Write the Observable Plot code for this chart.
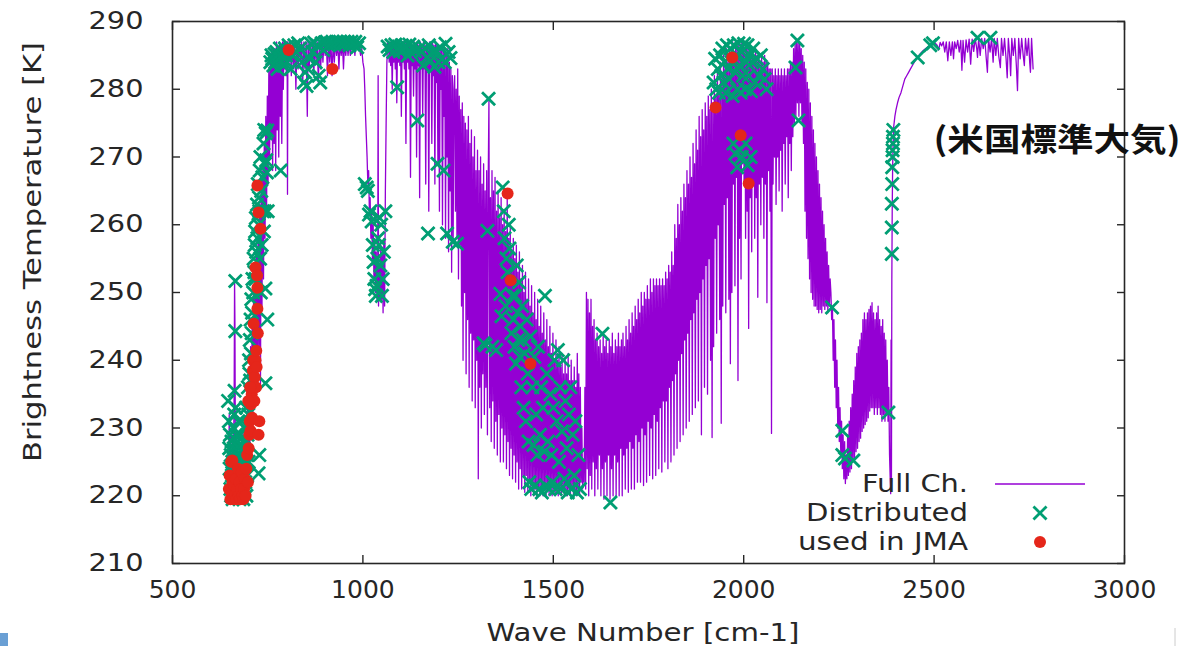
<!DOCTYPE html>
<html><head><meta charset="utf-8">
<script src="https://cdn.jsdelivr.net/npm/d3@7"></script>
<script src="https://cdn.jsdelivr.net/npm/@observablehq/plot@0.6"></script>
<style>
html,body{margin:0;padding:0;background:#fff;}
#chart{position:relative;width:1182px;height:646px;overflow:hidden;}
</style></head><body><div id="chart"></div>
<script>
const xTicks = [500, 1000, 1500, 2000, 2500, 3000];
const yTicks = [210, 220, 230, 240, 250, 260, 270, 280, 290];
const xLabel = "Wave Number [cm-1]";
const yLabel = "Brightness Temperature [K]";
const seriesNames = ["Full Ch.", "Distributed", "used in JMA"];
const note = "(米国標準大気)";

// Full Ch. spectrum [wave number, Tb]
const fullCO2 = [[645,226],[647,220],[649,232],[651,222],[653,229],[655,220],[657,226],[659,221],[661,230],[662,236],[663,252],[664,245],[665,228],[667,222],[669,229],[671,220],[673,226],[675,219.5],[677,224],[679,220],[681,228],[683,222],[685,230],[687,221],[689,226],[691,220],[693,229],[695,222],[697,233],[699,224]];
const fullRise = [[701,238],[703,226],[705,242],[707,229],[709,245],[711,231],[713,250],[715,233],[717,253],[719,236],[721,256],[723,238],[725,260],[727,242],[729,263],[731,236],[733,266],[735,248],[737,268],[739,252],[741,272],[743,258],[745,276],[747,262],[749,279],[751,266],[753,283],[755,270],[757,285],[759,273],[761,286],[763,268],[765,286],[767,272],[769,286],[771,268],[773,287],[775,274],[777,286],[779,270],[781,287],[783,276],[785,286],[787,272],[789,287],[791,280]];
const fullWin1 = [[793,287],[795,283],[797,287],[799,282],[801,287],[802,264.5],[803,287],[806,284],[809,287],[812,282],[815,287],[818,283],[821,287],[824,280],[827,287],[830,283],[833,287],[836,284],[839,287],[842,281],[845,287],[848,283],[851,287],[854,276],[856,287],[859,283],[862,287],[865,284],[868,287],[871,282],[874,287],[877,284],[880,287],[883,281],[886,287],[889,283],[892,287],[895,284],[898,287],[901,285],[904,287],[907,282],[910,287],[913,284],[916,287],[919,282],[922,287],[925,284],[928,287],[931,285],[934,287],[937,283],[940,287],[943,285],[946,287],[949,283],[952,287],[955,285],[958,287],[961,285],[964,287],[967,285],[970,287],[973,286],[976,287],[979,285],[982,287],[985,286],[988,287]];
const fullO3 = [[991,286],[994,285],[997,286],[1000,284],[1003,283],[1005,280],[1007,276],[1009,273],[1011,270],[1013,266],[1015,268],[1017,262],[1019,264],[1021,258],[1023,262],[1025,255],[1027,260],[1029,252],[1031,258],[1033,250],[1035,256],[1037,249],[1039,255],[1040,282],[1041,248],[1043,254],[1045,249],[1047,257],[1049,249],[1051,256],[1053,247],[1055,258],[1057,248],[1059,265],[1061,275],[1063,284],[1065,287]];
const fullWin2 = [[1067,287],[1069,284],[1071,287],[1073,283.5],[1075,287],[1077,280],[1079,287],[1081,284],[1083,287],[1085,283],[1087,287],[1089,278],[1091,287],[1093,284],[1095,287],[1097,283.5],[1099,286.5],[1101,276],[1103,287],[1105,284],[1107,287],[1109,283],[1111,287],[1113,272],[1115,287],[1117,284],[1119,286.5],[1121,283],[1123,287],[1125,267],[1127,287],[1129,283.5],[1131,286.5],[1133,279],[1135,287],[1137,283],[1139,286.5],[1141,270],[1143,287],[1145,283.5],[1147,286.5],[1149,264],[1151,287],[1153,283],[1155,286.5],[1157,276],[1159,287],[1161,283],[1163,286.5],[1165,266],[1167,287],[1169,283],[1171,286.5],[1173,262],[1175,287],[1177,283],[1179,286.5],[1181,272],[1183,287],[1185,282],[1187,286.5],[1189,266],[1191,287],[1193,281],[1195,286.5],[1197,269],[1199,286],[1201,262],[1203,286],[1205,280],[1207,286],[1209,260],[1211,286],[1213,276],[1215,286],[1217,258],[1219,285],[1221,270],[1223,286],[1225,256],[1227,284],[1229,265],[1231,283],[1233,253],[1235,282],[1237,258],[1239,280]];
const fullH2O = [[1241,282],[1243,262],[1245,280],[1247,258],[1249,283],[1251,252],[1253,279],[1255,257],[1257,277],[1259,248],[1261,278],[1263,240],[1265,276],[1267,250],[1269,275],[1271,238],[1273,274],[1275,246],[1277,276],[1279,236],[1281,272],[1283,244],[1285,274],[1287,234],[1289,270],[1291,243],[1293,273],[1295,233],[1297,268],[1299,240],[1301,271],[1303,222.5],[1305,268],[1307,236],[1309,270],[1311,230],[1313,266],[1315,238],[1317,269],[1319,232],[1321,265],[1323,236],[1325,268],[1327,229],[1329,266],[1331,278.6],[1333,233],[1335,264],[1337,228],[1339,268],[1341,234],[1343,265],[1345,227],[1347,267],[1349,231],[1351,262],[1353,226],[1355,265],[1357,232],[1359,261],[1361,225],[1363,264],[1365,230],[1367,260],[1369,225],[1371,262],[1373,229],[1375,259],[1377,224],[1379,264.6],[1381,228],[1383,258],[1385,223],[1387,260],[1389,227],[1391,256],[1393,222.5],[1395,258],[1397,226],[1399,255],[1401,222],[1403,257],[1405,225],[1407,253],[1409,221],[1411,256],[1413,224],[1415,252],[1417,221],[1419,254],[1421,223],[1423,250],[1425,220.5],[1427,253],[1429,223],[1431,249],[1433,220.5],[1435,252],[1437,222],[1439,248],[1441,220],[1443,251],[1445,222],[1447,247],[1449,220],[1451,250],[1453,221],[1455,246],[1457,220],[1459,249],[1461,221],[1463,245],[1465,220],[1467,248],[1469,221],[1471,244],[1473,220],[1475,247],[1477,221],[1479,243],[1481,220],[1483,246],[1485,221],[1487,242],[1489,220],[1491,245],[1493,221],[1495,241],[1497,220],[1499,244],[1501,221],[1503,240],[1505,220],[1507,243],[1509,221],[1511,240],[1513,220],[1515,242],[1517,221],[1519,239],[1521,220],[1523,241],[1525,221],[1527,238],[1529,220],[1531,240],[1533,221],[1535,238],[1537,220],[1539,241],[1541,221],[1543,237],[1545,220],[1547,240],[1549,221],[1551,237],[1553,220],[1555,239],[1557,221],[1559,236],[1561,220],[1563,241],[1565,221],[1567,238],[1569,220],[1571,236],[1573,222],[1575,230],[1577,221],[1579,225]];
const fullValley = [[1581,222],[1583,236],[1585,221],[1587,250],[1589,224],[1591,249],[1593,220],[1595,247],[1597,223],[1599,249],[1601,221],[1603,245],[1605,225],[1607,246],[1609,220],[1611,243],[1613,224],[1615,244],[1617,221],[1619,242],[1621,226],[1623,243],[1625,220],[1627,241],[1629,224],[1631,244],[1633,219.5],[1635,242],[1637,225],[1639,243],[1641,220],[1643,241],[1645,226],[1647,243],[1649,219.5],[1651,242],[1653,224],[1655,244],[1657,220],[1659,241],[1661,226],[1663,243],[1665,220],[1667,242],[1669,225],[1671,244],[1673,220],[1675,242],[1677,227],[1679,243],[1681,220],[1683,244],[1685,226],[1687,242],[1689,221],[1691,245],[1693,227],[1695,243],[1697,220.5],[1699,246],[1701,228],[1703,244],[1705,221],[1707,247],[1709,227],[1711,245],[1713,221],[1715,248],[1717,229],[1719,246],[1721,222],[1723,249],[1725,228],[1727,247],[1729,222],[1731,250],[1733,230],[1735,248],[1737,221.5],[1739,250],[1741,229],[1743,249],[1745,222],[1747,251],[1749,231],[1751,249],[1753,223],[1755,252],[1757,230],[1759,250],[1761,222.5],[1763,252],[1765,232],[1767,251],[1769,223],[1771,252],[1773,231],[1775,251],[1777,224],[1779,252],[1781,233],[1783,251],[1785,223.5],[1787,252],[1789,234],[1791,251],[1793,225],[1795,253],[1797,234],[1799,252],[1801,224],[1803,254],[1805,236],[1807,253],[1809,225],[1811,256],[1813,237],[1815,254],[1817,226],[1819,260],[1821,238],[1823,258],[1825,227],[1827,263],[1829,240],[1831,260],[1833,228],[1835,264],[1837,241],[1839,262],[1841,229],[1843,266],[1845,243],[1847,264],[1849,230],[1851,268],[1853,244],[1855,266],[1857,231],[1859,270],[1861,246],[1863,267],[1865,232],[1867,272],[1869,247],[1871,269],[1873,233],[1875,274],[1877,249],[1879,271],[1881,234],[1883,276],[1885,250],[1887,273],[1889,229],[1891,277],[1893,252],[1895,274],[1897,236],[1899,278],[1901,254],[1903,276],[1905,235],[1907,279],[1909,255],[1911,277],[1913,240],[1915,280],[1917,228.6],[1919,278],[1921,242],[1923,282],[1925,258],[1927,279],[1929,244],[1931,283],[1933,260],[1935,280],[1937,246],[1939,284],[1941,230.7],[1943,282],[1945,248],[1947,285],[1949,263],[1951,283],[1953,247],[1955,286],[1957,264],[1959,284],[1961,249],[1963,286],[1965,239.5],[1967,285],[1969,250],[1971,287],[1973,266],[1975,285],[1977,251],[1979,287],[1981,267],[1983,286],[1985,237],[1987,287],[1989,258],[1991,286],[1993,252],[1995,287],[1997,269]];
const fullSW = [[1999,287],[2001,266],[2003,286],[2005,258],[2007,287],[2009,262],[2011,286],[2013,244.7],[2015,286],[2017,264],[2019,285],[2021,256],[2023,286],[2025,266],[2027,285],[2029,258],[2031,286],[2033,264],[2035,285],[2037,249.3],[2039,285],[2041,266],[2043,284],[2045,260],[2047,285],[2049,267],[2051,284],[2053,258],[2055,285],[2057,266],[2059,284],[2061,248.5],[2063,284],[2065,268],[2067,283],[2069,262],[2071,283],[2073,229.2],[2075,283],[2077,266],[2079,282],[2081,270],[2083,283],[2085,263],[2087,282],[2089,270],[2091,283],[2093,265],[2095,282],[2097,271],[2099,283],[2101,262],[2103,282],[2105,272],[2107,283],[2109,266],[2111,282],[2113,273],[2115,283],[2117,264],[2119,283],[2121,272],[2123,284],[2125,268],[2127,284],[2129,273],[2131,286],[2133,275],[2135,287],[2137,276],[2139,287],[2141,278],[2143,287],[2145,276],[2147,287],[2149,278],[2151,286],[2153,275],[2155,285],[2157,272],[2159,284],[2161,262],[2163,283],[2165,258],[2167,281],[2169,255],[2171,280],[2173,252],[2175,278],[2177,250],[2179,276],[2181,249],[2183,274],[2185,248],[2187,272],[2189,248],[2191,270],[2193,247.5],[2195,268],[2197,247],[2199,266],[2201,247.5],[2203,264],[2205,247],[2207,262],[2209,248],[2211,260],[2213,247.5],[2215,258],[2217,248],[2219,256],[2221,247],[2223,254],[2225,248],[2227,252]];
const fullN2O = [[2229,250],[2231,246],[2233,248],[2235,240],[2237,246],[2239,236],[2241,243],[2243,233],[2245,240],[2247,230],[2249,236],[2251,228],[2253,233],[2255,226],[2257,231],[2259,224],[2261,229],[2263,222.5],[2265,228],[2267,221.8],[2269,226],[2271,222.5],[2273,229],[2275,223],[2277,231],[2279,223.5],[2281,233],[2283,224],[2285,235],[2287,225],[2289,237],[2291,225.5],[2293,239],[2295,226.5],[2297,241],[2299,227],[2301,242],[2303,228],[2305,243],[2307,228.5],[2309,244],[2311,229.5],[2313,246],[2315,230],[2317,247],[2319,230.5],[2321,246],[2323,231],[2325,247],[2327,231.5],[2329,247.5],[2331,232.5],[2333,248],[2335,233],[2337,248.5],[2339,233],[2341,247],[2343,232],[2345,246],[2347,233],[2349,247],[2351,232],[2353,248],[2355,233],[2357,246],[2359,232],[2361,245],[2363,231],[2365,246],[2367,232],[2369,244],[2371,231],[2373,243],[2375,232],[2377,240],[2379,231],[2381,236],[2383,226],[2385,222],[2386,220.3],[2387,243],[2388,222]];
const fullRbranch = [[2389,252],[2390,262],[2391,268],[2392,271],[2394,274.5],[2397,276],[2400,277],[2404,278],[2408,278.8],[2413,279.5],[2418,280.5],[2423,281.5],[2428,282],[2433,282.5],[2438,283],[2443,283.5],[2448,284],[2453,284.5],[2458,284.8],[2463,285.2],[2468,285.5],[2473,285.8],[2478,286],[2483,286.2],[2488,286.4],[2493,286.5],[2498,286.7],[2503,286.8],[2508,286.5],[2512,285.8],[2516,286.9],[2520,286.4],[2524,287],[2528,285.5],[2532,287],[2536,284.2],[2540,287],[2544,285],[2548,287],[2551,284.5],[2554,287],[2558,286],[2562,287.2],[2566,285.5],[2570,287.2],[2573,282.8],[2576,287.2],[2580,284],[2584,287.3],[2588,285.5],[2592,287.4],[2596,283.7],[2600,287.4],[2604,285.6],[2608,287.5],[2612,286],[2614,284.7],[2617,287.5],[2621,285],[2625,287.5],[2629,286],[2633,287.5],[2637,284.5],[2640,282.5],[2643,287.5],[2647,285.5],[2651,287.5],[2655,284],[2658,287.5],[2662,285],[2666,287.5],[2670,284.8],[2674,283.2],[2677,287.5],[2681,285],[2685,287.5],[2689,284.5],[2692,281.7],[2695,287.5],[2699,284.5],[2701,282],[2704,287.5],[2708,285],[2712,287.5],[2716,283.5],[2719,279.8],[2722,287.5],[2726,284.5],[2730,287.5],[2734,285],[2737,283.5],[2740,287.5],[2744,285],[2748,287.5],[2751,284],[2753,282.5],[2756,287.5],[2760,283]];

// Distributed channels [wave number, Tb]
const distributed = [[646,234],[648,231],[649,227],[650,224],[651,229],[652,221],[653,226],[654,220],[655,228],[656,223],[657,225],[658,219.5],[659,222],[660,230],[661,227],[662,232],[663,235.5],[665,244.3],[665,251.7],[666,233],[667,229],[668,226],[669,222],[670,220],[671,228],[672,224],[673,231],[674,221],[675,227],[676,219.5],[677,223],[678,229],[679,225],[680,220.5],[681,226],[682,231],[683,222],[684,228],[685,224],[686,219.5],[687,227],[688,221],[689,230],[690,225],[691,222],[692,228],[693,233],[694,220],[695,226],[696,223],[697,229],[698,236],[699,232],[700,225],
[701,240],[702,238],[703,243],[704,237],[705,246],[706,241],[707,249],[708,244],[709,247],[710,252],[712,250],[713,255],[715,253],[716,257],[717,259],[718,252],[719,261],[720,256],[722,263],[723,258],[724,266],[726,260],[727,264],[728,262],[729,268],[730,255],[731,270],[732,250],[733,265],[734,257],[736,267],[737,262],[739,272],[740,259],[741,274],[742,262],[743,269],[745,273.5],[746,269.5],[748,267.7],[749,273.9],[750,262],[744,250.6],[749,246],[744,236.6],[726,223.3],[728,226],
[757,284],[760,285],[762,284.5],[765,283.5],[768,285.2],[770,284],[773,285.5],[776,283],[779,284.6],[782,286],[785,284],[788,285],[791,283.5],[784,268],[795,286],[798,285],[801,284],[805,286.5],[810,283],[815,285],[820,286.5],[825,285.5],[830,286.8],[835,286],[840,284],[845,281],[848,282.5],[852,280.5],[856,283],[860,284.5],[864,286.7],[868,285.5],[872,286.9],[876,284],[880,286.5],[884,282],[888,281],[892,286.8],[896,285.8],[900,286.9],[905,287],[910,286.5],[915,286.8],[920,287],[925,286.6],[930,287],[935,286.9],[940,287],[945,286.7],[950,287],[955,286.8],[960,287],[965,286.5],[970,287],[975,286.6],[980,287],[985,286.2],[990,286.8],
[1005,266],[1010,265.5],[1013,265],[1016,261.5],[1020,262],[1023,260.5],[1026,257],[1028,254.5],[1030,252],[1032,250.5],[1034,249.5],[1036,251],[1038,255],[1040,258],[1042,257],[1044,261],[1046,254],[1048,260],[1050,249.5],[1052,252],[1055,256],[1059,262],
[1065,286.3],[1070,285.8],[1075,286.5],[1080,285.5],[1085,286.6],[1090,280.3],[1092,286],[1097,285.6],[1102,286.5],[1107,285.8],[1112,286.4],[1117,285],[1122,286.6],[1127,285.4],[1132,286.3],[1137,285.6],[1143,275.4],[1148,286],[1153,285.5],[1158,283.5],[1163,286],[1168,284.7],[1171,258.7],[1173,286.5],[1178,284.2],[1183,285.5],[1188,283.3],[1193,285.7],[1196,269],[1198,284],[1203,286.2],[1208,284.5],[1212,268],[1215,284],[1217,286.7],[1221,258.7],[1225,285.5],[1230,284.6],[1236,257.5],[1247,257.2],
[1317,242.5],[1322,242.2],[1327,259.1],[1330,278.6],[1340,242],[1350,241.5],[1361,249.8],[1364,246.5],[1367,265.5],[1370,262],[1372,258],[1375,248],[1377,255],[1380,253],[1383,260],[1385,256.5],[1390,244],[1393,249.5],[1395,246],[1398,242],[1400,249.5],[1402,239.5],[1404,254],[1406,247],[1408,243],[1410,251.5],[1412,240.5],[1414,245],[1416,236],[1418,248],[1420,243],[1422,233],[1425,241],[1428,231],[1430,246],[1433,238],[1435,228],[1437,222],[1440,243.5],[1442,221],[1445,236],[1448,227.5],[1450,240.5],[1452,221.5],[1455,232],[1458,226],[1460,242],[1463,221],[1465,229],[1468,236],[1470,220.5],[1473,233],[1476,226.5],[1478,249.5],[1480,221.5],[1483,238],[1486,228],[1489,221],[1492,235],[1495,226],[1498,222],[1500,233],[1503,240],[1506,221],[1509,231],[1512,241.5],[1515,225],[1518,236],[1520,221],[1523,229.5],[1526,240],[1529,222.5],[1532,234],[1535,227],[1538,220.5],[1541,232],[1545,236],[1548,221],[1551,229],[1555,223],[1558,231],[1562,220.5],[1566,226],[1570,221],
[1629,243.9],[1650,219],
[1921,281],[1925,284.5],[1928,280],[1932,283],[1935,279.5],[1938,285],[1941,282],[1944,286],[1947,281],[1950,284],[1953,279.4],[1956,286.5],[1959,283],[1962,281.5],[1965,286],[1968,284],[1971,279],[1974,286.5],[1977,282.5],[1980,285],[1983,280],[1986,286.8],[1989,283.5],[1992,279.5],[1995,285.5],[1998,282],[2001,286.7],[2004,280],[2007,284],[2010,286.5],[2013,282],[2016,285],[2019,279.7],[2022,284],[2025,286],[2030,281],[2035,284.5],[2040,282],[2045,285],[2050,283],[2055,281.5],[2060,280],[1973,272],[1978,270.5],[1983,268.5],[1990,271],[1995,270],[2005,272],[2018,270],[2010,268.8],
[2136,283.2],[2141,287.2],[2144,275.4],[2232,247.8],[2259,229.6],[2259,226],[2266,225.5],[2288,225.2],[2380,232.3],
[2389,255.7],[2389,259.6],[2389,263.1],[2390,266],[2390,268.5],[2391,270],[2391,271],[2392,272],[2392,273],[2393,274],[2457,284.7],[2490,286.5],[2497,286.8],[2614,287.6],[2648,287.6]];

// Channels used in JMA [wave number, Tb]
const usedJMA = [[648,221],[650,223],[652,219.5],[654,225],[656,220.5],[657,225.2],[658,222],[660,219.5],[662,221.5],[664,220],[666,222.5],[668,219.5],[670,221],[672,224],[674,220],[676,222],[678,219.5],[680,221],[682,223.5],[684,220],[686,219.5],[688,221],[690,222.5],[692,220],[694,224],[696,226],[698,222],[700,227],[702,229],[703,231],[705,229.6],[706,233.5],[708,235],[709,231.5],[710,236],[711,238.5],[712,240],[713,245.4],[715,234],[716,237.5],[718,240],[720,241.4],[721,239],[723,247.6],[723,250.7],[718,253.7],[722,252.5],[723,265.8],[726,261.8],[731,259.4],[724,244],[719,236],[699,234],[704,236],[726,229],[728,231],
[805,285.8],[920,283],[1380,264.6],[1388,251.8],[1440,239.5],[1926,277.3],[1970,284.7],[1992,273.2],[2013,266.1]];

const fullCh = [...fullCO2, ...fullRise, ...fullWin1, ...fullO3, ...fullWin2, ...fullH2O, ...fullValley, ...fullSW, ...fullN2O, ...fullRbranch]
  .map(([wn, tb]) => ({wn, tb}));
const distData = distributed.map(([wn, tb]) => ({wn, tb}));
const jmaData = usedJMA.map(([wn, tb]) => ({wn, tb}));

const PURPLE = "#9400d3", GREEN = "#009e73", RED = "#e5261a", INK = "#262626";
const FONT = "DejaVu Sans";

const plot = Plot.plot({
  width: 1182, height: 646,
  marginLeft: 172, marginRight: 58, marginTop: 21, marginBottom: 83,
  style: {fontFamily: FONT, fontSize: "24px", color: INK, background: "#fff", overflow: "visible"},
  x: {domain: [500, 3000]},
  y: {domain: [210, 290]},
  marks: [
    Plot.line(fullCh, {x: "wn", y: "tb", stroke: PURPLE, strokeWidth: 1.3}),
    Plot.dot(distData, {x: "wn", y: "tb", symbol: "times", stroke: GREEN, strokeWidth: 2.8, r: 6}),
    Plot.dot(jmaData, {x: "wn", y: "tb", fill: RED, r: 6}),
    Plot.frame({stroke: INK, strokeWidth: 1.6}),
    Plot.axisX({ticks: xTicks, tickSize: -8, tickFormat: () => "", label: null, stroke: INK, strokeWidth: 1.4}),
    Plot.axisX({ticks: xTicks, anchor: "top", tickSize: -8, tickFormat: () => "", label: null, stroke: INK, strokeWidth: 1.4}),
    Plot.axisY({ticks: yTicks, tickSize: -8, tickFormat: () => "", label: null, stroke: INK, strokeWidth: 1.4}),
    Plot.axisY({ticks: yTicks, anchor: "right", tickSize: -8, tickFormat: () => "", label: null, stroke: INK, strokeWidth: 1.4}),
    Plot.axisX({ticks: xTicks, tickSize: 0, tickPadding: 17, label: null, fontSize: 25, tickFormat: d => String(d)}),
    Plot.axisY({ticks: yTicks, tickSize: 0, tickPadding: 29, label: null, fontSize: 24, tickFormat: d => String(d)})
  ]
});

document.getElementById("chart").appendChild(plot);
const svg = d3.select(plot);

// stretch y tick labels like the reference
svg.selectAll('g[aria-label="y-axis tick label"] text')
  .attr("textLength", 55).attr("lengthAdjust", "spacingAndGlyphs");

function addText(txt, x, y, opts = {}) {
  const t = svg.append("text")
    .attr("x", x).attr("y", y)
    .attr("text-anchor", opts.anchor || "middle")
    .attr("dominant-baseline", "central")
    .attr("fill", opts.fill || INK)
    .attr("font-family", opts.font || FONT)
    .attr("font-size", opts.size || 24)
    .attr("font-weight", opts.weight || "normal")
    .text(txt);
  if (opts.len) t.attr("textLength", opts.len).attr("lengthAdjust", "spacingAndGlyphs");
  if (opts.transform) t.attr("transform", opts.transform);
  return t;
}

// axis titles
addText(xLabel, 643, 632, {size: 25, len: 313});
addText(yLabel, 0, 0, {size: 24, len: 420, transform: "translate(33,252) rotate(-90)"});

// annotation
addText(note, 1057, 137, {size: 32, len: 247, font: "Noto Sans CJK JP", fill: "#111", weight: "bold"});

// legend
const legendRows = [484, 513, 542];
seriesNames.forEach((name, i) => {
  addText(name, 968, legendRows[i], {anchor: "end", size: 24, len: [106, 162, 170][i]});
});
svg.append("line").attr("x1", 995).attr("x2", 1085).attr("y1", 484).attr("y2", 484)
  .attr("stroke", PURPLE).attr("stroke-width", 1.5);
svg.append("path").attr("d", d3.symbol(d3.symbolTimes, 6 * 6 * Math.PI)()).attr("transform", "translate(1040,513)")
  .attr("fill", "none").attr("stroke", GREEN).attr("stroke-width", 2.8);
svg.append("circle").attr("cx", 1040).attr("cy", 542).attr("r", 6).attr("fill", RED);

// slide decorations
svg.append("rect").attr("x", 0).attr("y", 633).attr("width", 8).attr("height", 13).attr("fill", "#6a9fd4");
svg.append("line").attr("x1", 1175).attr("x2", 1175).attr("y1", 628).attr("y2", 646).attr("stroke", "#ccc").attr("stroke-width", 1);
</script>
</body></html>
